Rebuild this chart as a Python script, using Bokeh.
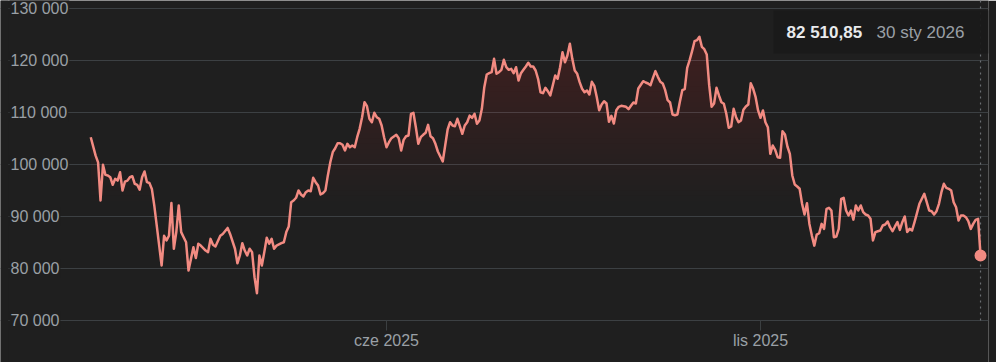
import numpy as np
from bokeh.plotting import figure
from bokeh.models import Range1d, Label, BoxAnnotation, FixedTicker
from bokeh.embed import file_html
from bokeh.resources import INLINE

# ---------------- data ----------------
# day offsets counted from 30 sty 2025
days = [1, 3, 4, 5, 6, 7, 8, 9, 10, 11, 12, 13, 14, 15, 16, 17, 18, 19, 20, 21,
        22, 23, 24, 25, 26, 27, 28, 29, 30, 31, 32, 33, 34, 35, 36, 37, 38, 39, 40, 41,
        42, 43, 44, 45, 46, 48, 49, 50, 51, 52, 54, 55, 57, 58, 60, 61, 62, 63, 64, 65,
        66, 67, 68, 69, 70, 71, 72, 73, 74, 75, 76, 77, 79, 80, 81, 82, 83, 84, 85, 86,
        87, 88, 89, 90, 91, 92, 93, 94, 95, 96, 97, 98, 99, 100, 101, 102, 103, 104, 105, 106,
        107, 108, 109, 110, 111, 112, 113, 114, 115, 116, 117, 118, 119, 120, 121, 122, 123, 124, 126, 127,
        128, 129, 130, 131, 132, 133, 134, 135, 136, 137, 138, 139, 140, 141, 142, 143, 145, 146, 147, 148,
        149, 150, 151, 152, 153, 154, 155, 156, 157, 158, 159, 160, 161, 162, 163, 164, 165, 166, 167, 168,
        169, 170, 171, 172, 173, 174, 175, 176, 177, 178, 179, 180, 181, 182, 183, 184, 185, 186, 187, 188,
        189, 190, 191, 192, 193, 194, 195, 196, 197, 198, 199, 200, 201, 202, 203, 204, 205, 206, 207, 208,
        209, 210, 211, 212, 213, 214, 215, 216, 217, 218, 220, 221, 222, 223, 224, 225, 227, 228, 229, 230,
        231, 232, 233, 234, 235, 236, 237, 238, 239, 240, 241, 242, 243, 244, 245, 246, 247, 248, 249, 250,
        251, 252, 253, 254, 255, 256, 257, 258, 259, 260, 261, 262, 263, 264, 265, 266, 267, 268, 269, 270,
        271, 272, 273, 274, 275, 276, 277, 278, 279, 280, 281, 282, 283, 284, 285, 286, 287, 288, 289, 290,
        291, 292, 293, 294, 295, 296, 297, 298, 299, 300, 301, 302, 303, 304, 305, 306, 307, 308, 309, 310,
        311, 312, 313, 314, 315, 316, 317, 318, 319, 320, 321, 322, 323, 324, 325, 326, 327, 328, 329, 330,
        331, 332, 333, 334, 335, 336, 337, 338, 339, 340, 342, 343, 344, 345, 346, 347, 348, 349, 350, 351,
        352, 353, 354, 355, 356, 357, 358, 359, 360, 361, 362, 363, 364, 365]

values = [105250, 101700, 100400, 93080, 99940, 98000, 97900, 97550, 96100, 97250,
          96900, 98500, 95000, 96700, 96900, 97550, 97750, 96300, 96100, 95150,
          97550, 98650, 96600, 96450, 95300, 92100, 88250, 84400, 80580, 86300,
          85400, 86300, 92600, 83800, 87000, 92100, 87000, 86000, 85050, 79600,
          81850, 84100, 82000, 84750, 84400, 83450, 83150, 85700, 84550, 84230,
          86300, 86650, 87800, 86650, 83800, 81000, 82500, 84870, 83450, 82500,
          83800, 83150, 78330, 75250, 82500, 80580, 83150, 85900, 84750, 85700,
          83800, 84400, 84870, 85050, 87000, 88080, 92750, 93080, 93600, 95000,
          94230, 93850, 94670, 95000, 94870, 97450, 96600, 95960, 94230, 94480,
          95000, 97900, 100430, 102370, 103130, 104100, 104100, 103790, 102700, 103980,
          103330, 103650, 103330, 105250, 106860, 109100, 111980, 111210, 108790, 108130,
          109940, 109100, 108790, 107500, 105250, 103330, 104290, 105060, 105710, 105060,
          102700, 104740, 105440, 105580, 109750, 109940, 107170, 103980, 105250, 105710,
          106100, 107630, 105440, 105060, 103980, 102500, 100580, 103650, 106730, 108130,
          107500, 107370, 108790, 107370, 105900, 107500, 108130, 109400, 108980, 109750,
          107830, 108460, 110710, 114870, 117310, 117560, 117750, 120320, 117440, 117750,
          118210, 120130, 118710, 118210, 118400, 117560, 118710, 116150, 117560, 118210,
          118850, 119560, 118850, 118850, 118080, 116480, 113900, 113710, 114750, 114100,
          113270, 115190, 117120, 116480, 118710, 121600, 119670, 120960, 123210, 120320,
          118080, 117440, 115830, 114560, 113900, 114230, 113460, 115900, 115130, 113000,
          110440, 111540, 112170, 111730, 108200, 109360, 107880, 110440, 111090, 111280,
          111090, 110640, 111280, 111920, 111730, 114610, 116020, 115770, 115580, 115250,
          116670, 117950, 116860, 115900, 115580, 114290, 112370, 111920, 109620, 109480,
          109620, 112060, 114290, 114480, 118600, 120060, 121790, 123710, 123910, 124550,
          122630, 122180, 121160, 115250, 111090, 111730, 114750, 113270, 111980, 111670,
          109750, 107060, 107310, 110710, 109100, 108130, 108460, 110520, 111150, 111540,
          115640, 114560, 112950, 110390, 108980, 110390, 108130, 107170, 102050, 103650,
          102820, 101400, 101290, 106410, 105770, 103460, 102050, 97890, 96150, 95770,
          95330, 92440, 90380, 92560, 88580, 86330, 84400, 86520, 86780, 88580,
          87620, 91480, 91670, 91150, 86020, 86150, 87620, 93400, 93600, 91150,
          90190, 91150, 89400, 92120, 91150, 92120, 90830, 90380, 90190, 89550,
          85380, 87000, 87170, 87310, 88270, 88460, 89040, 87940, 87170, 88080,
          88910, 87430, 88910, 90000, 87000, 87620, 87310, 88910, 90640, 92440,
          94370, 92750, 91150, 91020, 90380, 91020, 92440, 94670, 96290, 95520,
          95330, 95000, 92750, 91790, 89230, 90190, 90190, 89870, 89100, 87620,
          88580, 89360, 89550, 82510.85]

y_ticks = [70000, 80000, 90000, 100000, 110000, 120000, 130000]
y_tick_labels = ["70 000", "80 000", "90 000", "100 000", "110 000", "120 000", "130 000"]
x_ticks = [122, 275]          # 1 cze 2025, 1 lis 2025
x_tick_labels = ["cze 2025", "lis 2025"]
last_value_text = "82 510,85"
last_date_text = "30 sty 2026"

# ---------------- style / layout ----------------
BG = "#1f1f1f"
GRID = "#3c4043"
TEXT = "#9aa0a6"
LINE = "#f28b82"
FONT = "Liberation Sans"

W, H = 996, 362
RIGHT_PAD = 8
PX_PER_DAY = 374 / 153
X0_PX = 87.8                   # pixel column of day 0
PX_PER_UNIT = 52 / 10000
BASE_PX = 320                  # pixel row of 70 000

x_start = -X0_PX / PX_PER_DAY
x_end = (W - RIGHT_PAD - X0_PX) / PX_PER_DAY
y_base = y_ticks[0]
y_top = y_base + BASE_PX / PX_PER_UNIT
y_bottom = y_base - (H - BASE_PX) / PX_PER_UNIT


def px_x(px):
    return x_start + px / PX_PER_DAY


def px_y(py):
    return y_top - py / PX_PER_UNIT


p = figure(width=W, height=H, x_range=Range1d(x_start, x_end),
           y_range=Range1d(y_bottom, y_top), output_backend="svg",
           toolbar_location=None, x_axis_location=None, y_axis_location=None,
           min_border_left=0, min_border_right=RIGHT_PAD, min_border_top=0,
           min_border_bottom=0)
p.background_fill_color = BG
p.border_fill_color = BG
p.outline_line_color = None

p.xgrid.visible = False
p.ygrid.ticker = FixedTicker(ticks=y_ticks)
p.ygrid.grid_line_color = GRID
p.ygrid.grid_line_width = 1

# x ticks (below the 70 000 line)
p.segment(x0=x_ticks, x1=x_ticks, y0=[y_base] * len(x_ticks),
          y1=[px_y(BASE_PX + 10)] * len(x_ticks), line_color=GRID, line_width=1)
for t, lab in zip(x_ticks, x_tick_labels):
    p.add_layout(Label(x=t, y=px_y(340), text=lab, text_font=FONT, text_font_size="16px",
                       text_color=TEXT, text_align="center", text_baseline="middle"))

# gradient-like fill under the line (stacked translucent layers)
vals = np.array(values, dtype=float)
for lvl in range(93000, 125000, 1000):
    p.varea(x=days, y1=np.full(len(vals), float(lvl)), y2=np.maximum(vals, lvl),
            fill_color=LINE, fill_alpha=0.0062)

# dotted vertical marker at the last point
p.segment(x0=[days[-1]], x1=[days[-1]], y0=[y_base], y1=[y_top], line_color="#6b6e72",
          line_width=1.2, line_dash="2 4")

p.line(days, values, line_color=LINE, line_width=2.5, line_join="round")
p.scatter([days[-1]], [values[-1]], size=12, fill_color=LINE, line_color=None)

# mask the gridlines left of the labels
p.add_layout(BoxAnnotation(left=x_start, right=px_x(8), fill_color=BG, fill_alpha=1,
                           line_color=None))
for t, lab in zip(y_ticks, y_tick_labels):
    p.add_layout(Label(x=px_x(9), y=t, text=lab, text_font=FONT, text_font_size="16px",
                       text_color=TEXT, text_baseline="middle", text_align="left",
                       background_fill_color=BG, background_fill_alpha=1, padding=1))

# tooltip box
p.add_layout(BoxAnnotation(left=px_x(773), right=px_x(988), top=px_y(10), bottom=px_y(53),
                           fill_color="#1a1a1a", fill_alpha=0.93, line_color=None))
p.add_layout(Label(x=px_x(786), y=px_y(32), text=last_value_text, text_font=FONT,
                   text_font_size="17px", text_font_style="bold", text_color="#e8eaed",
                   text_baseline="middle"))
p.add_layout(Label(x=px_x(876), y=px_y(32), text=last_date_text, text_font=FONT,
                   text_font_size="17px", text_color=TEXT, text_baseline="middle"))

open("out.html", "w").write(file_html(p, INLINE))
